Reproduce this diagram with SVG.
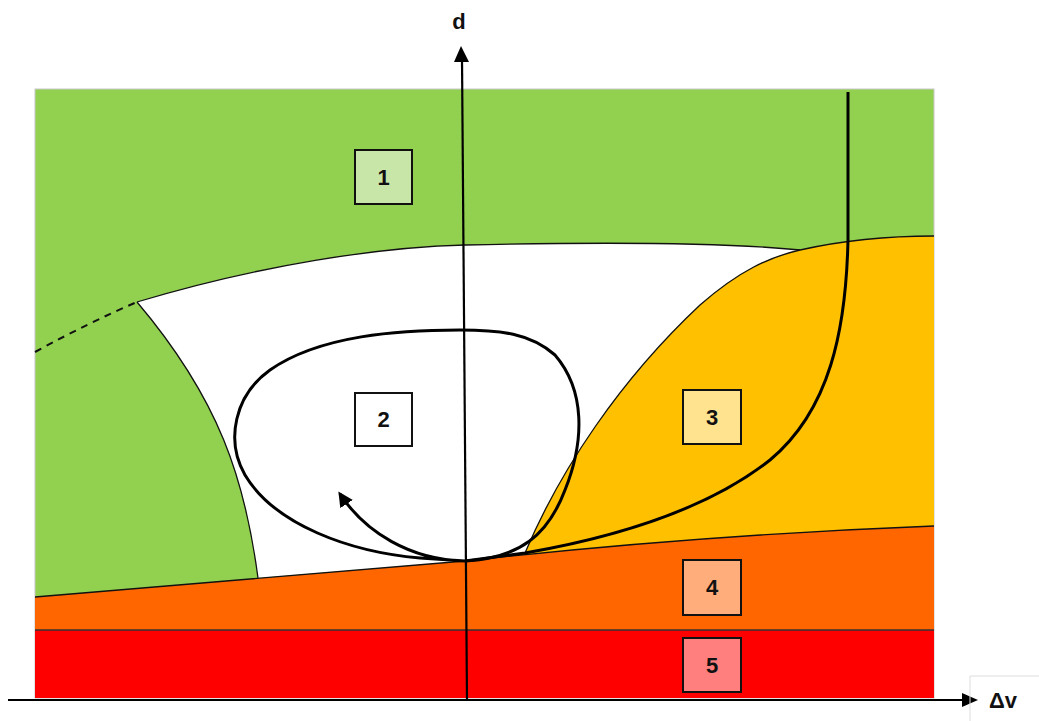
<svg xmlns="http://www.w3.org/2000/svg" width="1039" height="721" viewBox="0 0 1039 721">
<style>
.lbl{font-family:"Liberation Sans",Arial,sans-serif;font-weight:bold;font-size:22px;fill:#111;text-anchor:middle}
.box{stroke:#111;stroke-width:2}
.edge{stroke:#111;stroke-width:1.3;fill:none}
.thick{stroke:#000;stroke-width:3;fill:none}
</style>
<defs>
<marker id="ah" viewBox="0 0 10 10" refX="8" refY="5" markerWidth="5" markerHeight="5" orient="auto" markerUnits="strokeWidth">
<path d="M0,0 L10,5 L0,10 Z" fill="#000"/>
</marker>
</defs>
<rect width="1039" height="721" fill="#fff"/>
<g id="regions">
<rect x="35" y="89" width="899" height="609" fill="#92D050" stroke="#c8c8c8" stroke-width="1"/>
<path d="M137,302 C260,265 380,247 465,245 C600,242 720,242 800,250 C770,257 740,270 700,305 C620,380 560,470 525,553 L465,561 L258,578 C245,480 220,400 137,302 Z" fill="#fff"/>
<path d="M525,553 C560,470 620,380 700,305 C740,270 770,257 800,250 C840,241 880,236 934,236 L934,526 Q700,535 465,561 Z" fill="#FFC000"/>
<path d="M35,597 L465,561 Q700,535 934,526 L934,630 L35,630 Z" fill="#FF6600"/>
<rect x="35" y="630" width="899" height="68" fill="#FF0000"/>
</g>
<g id="connectors">
<path class="edge" d="M137,302 C260,265 380,247 465,245 C600,242 720,242 800,250 C840,241 880,236 934,236"/>
<path class="edge" d="M137,302 C220,400 245,480 258,578"/>
<path class="edge" stroke="#555" stroke-width="1" d="M800,250 C770,257 740,270 700,305 C620,380 560,470 525,553"/>
<path class="edge" d="M35,597 L465,561 Q700,535 934,526"/>
<line x1="35" y1="630" x2="934" y2="630" stroke="#333" stroke-width="1.5"/>
<path d="M35,352 Q90,322 137,302" stroke="#111" stroke-width="2" fill="none" stroke-dasharray="7,6"/>
<path class="thick" d="M848,92 L848,240 C846,330 830,410 770,460 C700,515 600,540 525,553 L465,561"/>
<path class="thick" marker-end="url(#ah)" d="M465,561 C520,558 548,535 565,490 C585,440 585,390 555,355 C530,333 500,330 460,330 C400,330 320,335 270,370 C235,395 225,440 245,475 C275,525 350,552 420,558 L465,561 C410,560 365,532 340,494"/>
<line x1="467" y1="700" x2="462" y2="58" stroke="#000" stroke-width="2.2"/>
<polygon points="461,46 454,62 469,62" fill="#000"/>
<line x1="8" y1="700" x2="966" y2="700" stroke="#000" stroke-width="2.2"/>
<polygon points="978,700 962,693 962,707" fill="#000"/>
<path d="M970,721 L970,676 L1039,676" stroke="#ddd" stroke-width="1" fill="none"/>
</g>
<g id="axis-labels">
<text class="lbl" x="459" y="29" font-size="20">d</text>
<text class="lbl" x="1003" y="708" font-size="20">Δv</text>
</g>
<g id="n1"><rect class="box" x="355" y="150" width="57" height="54" fill="#C8E6A8"/><text class="lbl" x="383.5" y="185">1</text></g>
<g id="n2"><rect class="box" x="355" y="393" width="57" height="53" fill="#fff"/><text class="lbl" x="383.5" y="427">2</text></g>
<g id="n3"><rect class="box" x="683" y="390" width="58" height="54" fill="#FFE38F"/><text class="lbl" x="712" y="425">3</text></g>
<g id="n4"><rect class="box" x="683" y="560" width="58" height="55" fill="#FFAD7A"/><text class="lbl" x="712" y="595">4</text></g>
<g id="n5"><rect class="box" x="683" y="638" width="58" height="54" fill="#FF7F7F"/><text class="lbl" x="712" y="673">5</text></g>
</svg>
